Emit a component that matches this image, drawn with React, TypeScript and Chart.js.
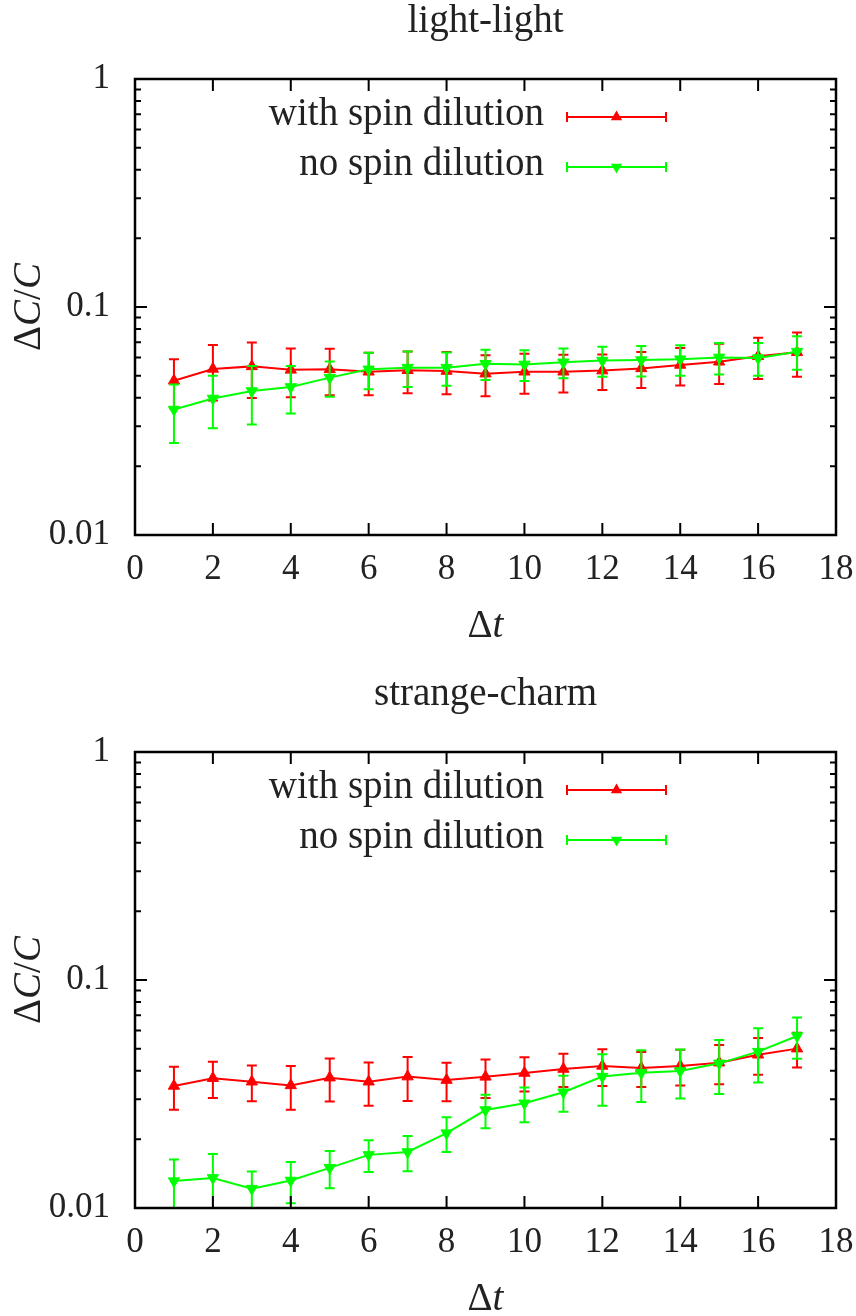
import React, { useEffect, useRef } from 'react';
import { Chart, registerables } from 'chart.js';

Chart.register(...registerables);

const SERIF = "'Liberation Serif', 'Times New Roman', serif";
const INK = '#222222';
const RED = '#ff0000';
const GREEN = '#00ff00';

// Time separations
const deltaT = [1, 2, 3, 4, 5, 6, 7, 8, 9, 10, 11, 12, 13, 14, 15, 16, 17];

// Axis ticks
const xTickValues = [0, 2, 4, 6, 8, 10, 12, 14, 16, 18];
const yTickValues = [0.01, 0.1, 1];

const seriesLabels = ['with spin dilution', 'no spin dilution'];

// light-light: relative error ΔC/C
const llWithSpin = [0.0475, 0.0535, 0.0549, 0.053, 0.0533, 0.052, 0.0528, 0.0524, 0.051, 0.052, 0.052, 0.0526, 0.0538, 0.0557, 0.0575, 0.0608, 0.0633];
const llWithSpinErr = [0.0115, 0.0146, 0.015, 0.0128, 0.0123, 0.011, 0.011, 0.011, 0.0104, 0.0104, 0.0098, 0.0093, 0.0097, 0.0104, 0.0115, 0.0125, 0.0139];
const llNoSpin = [0.0355, 0.0397, 0.0428, 0.0446, 0.049, 0.0533, 0.0542, 0.0542, 0.0564, 0.056, 0.0572, 0.0582, 0.0585, 0.059, 0.0601, 0.0597, 0.0637];
const llNoSpinErr = [0.0102, 0.0103, 0.0123, 0.0105, 0.0086, 0.0097, 0.0096, 0.009, 0.0086, 0.0086, 0.0085, 0.0087, 0.0089, 0.009, 0.0095, 0.0098, 0.0107];

// strange-charm: relative error ΔC/C
const scWithSpin = [0.0343, 0.0371, 0.0358, 0.0345, 0.0373, 0.0358, 0.0377, 0.0364, 0.0376, 0.0391, 0.0407, 0.042, 0.0411, 0.042, 0.0434, 0.047, 0.05];
const scWithSpinErr = [0.0073, 0.0067, 0.0064, 0.0075, 0.008, 0.0077, 0.0082, 0.007, 0.0072, 0.0067, 0.0068, 0.0077, 0.0072, 0.0075, 0.0085, 0.0086, 0.0087];
const scNoSpin = [0.01312, 0.01355, 0.01216, 0.0132, 0.015, 0.0171, 0.0176, 0.0213, 0.0269, 0.0288, 0.0322, 0.0377, 0.0392, 0.0399, 0.0431, 0.0485, 0.0568];
const scNoSpinErr = [0.0032, 0.0037, 0.0023, 0.0027, 0.0028, 0.0027, 0.0031, 0.0037, 0.0045, 0.005, 0.0058, 0.0096, 0.01, 0.0097, 0.0115, 0.013, 0.0116];

const TEXT_SIZE = 39;
const TICK_SIZE = 35;
const MARKER_R = 6.5;

type Part = [string, boolean];

// Draws a run of upright / italic pieces centred on the current origin.
function drawRich(ctx: CanvasRenderingContext2D, parts: Part[], size: number) {
  const fonts = parts.map(([, it]) => `${it ? 'italic ' : ''}${size}px ${SERIF}`);
  const widths = parts.map(([s], i) => {
    ctx.font = fonts[i];
    return ctx.measureText(s).width;
  });
  const total = widths.reduce((a, b) => a + b, 0);
  let x = -total / 2;
  parts.forEach(([s], i) => {
    ctx.font = fonts[i];
    ctx.fillText(s, x, 0);
    x += widths[i];
  });
}

function drawTriangle(ctx: CanvasRenderingContext2D, x: number, y: number, r: number, rotationDeg: number) {
  let rad = (rotationDeg * Math.PI) / 180;
  ctx.beginPath();
  for (let i = 0; i < 3; i++) {
    const px = x + Math.sin(rad) * r;
    const py = y - Math.cos(rad) * r;
    if (i === 0) ctx.moveTo(px, py);
    else ctx.lineTo(px, py);
    rad += (2 * Math.PI) / 3;
  }
  ctx.closePath();
  ctx.fill();
}

const errorBarsPlugin = {
  id: 'errorBars',
  beforeDatasetDraw(chart: any, args: any, opts: any) {
    const errs: number[] | undefined = opts.errors?.[args.index];
    if (!errs) return;
    const ds = chart.data.datasets[args.index];
    const { ctx, chartArea: a } = chart;
    const xs = chart.scales.x;
    const ys = chart.scales.y;
    ctx.save();
    ctx.beginPath();
    ctx.rect(a.left, a.top, a.right - a.left, a.bottom - a.top);
    ctx.clip();
    ctx.strokeStyle = ds.borderColor;
    ctx.lineWidth = 2;
    ds.data.forEach((p: { x: number; y: number }, i: number) => {
      const px = xs.getPixelForValue(p.x);
      const top = ys.getPixelForValue(p.y + errs[i]);
      const lowVal = p.y - errs[i];
      const bot = lowVal > 0 ? ys.getPixelForValue(lowVal) : a.bottom + 20;
      ctx.beginPath();
      ctx.moveTo(px, top);
      ctx.lineTo(px, bot);
      ctx.moveTo(px - 5, top);
      ctx.lineTo(px + 5, top);
      ctx.moveTo(px - 5, bot);
      ctx.lineTo(px + 5, bot);
      ctx.stroke();
    });
    ctx.restore();
  },
};

const framePlugin = {
  id: 'frameTicks',
  afterDatasetsDraw(chart: any) {
    const { ctx, chartArea: a } = chart;
    const xs = chart.scales.x;
    const ys = chart.scales.y;
    ctx.save();
    ctx.strokeStyle = '#000';
    ctx.lineWidth = 2;
    ctx.beginPath();
    xTickValues.forEach((v) => {
      const px = xs.getPixelForValue(v);
      ctx.moveTo(px, a.bottom);
      ctx.lineTo(px, a.bottom - 12);
      ctx.moveTo(px, a.top);
      ctx.lineTo(px, a.top + 12);
    });
    for (let d = -2; d < 0; d++) {
      for (let k = 1; k <= 9; k++) {
        const v = k * Math.pow(10, d);
        const len = k === 1 ? 12 : 6;
        const py = ys.getPixelForValue(v);
        ctx.moveTo(a.left, py);
        ctx.lineTo(a.left + len, py);
        ctx.moveTo(a.right, py);
        ctx.lineTo(a.right - len, py);
      }
    }
    ctx.stroke();
    ctx.lineWidth = 2.5;
    ctx.strokeRect(a.left, a.top, a.right - a.left, a.bottom - a.top);
    ctx.restore();
  },
};

const keyPlugin = {
  id: 'keyBox',
  afterDatasetsDraw(chart: any) {
    const { ctx, chartArea: a } = chart;
    const rotations = [0, 180];
    ctx.save();
    chart.data.datasets.forEach((ds: any, i: number) => {
      const row = a.top + 38 + i * 50;
      ctx.fillStyle = INK;
      ctx.font = `${TEXT_SIZE}px ${SERIF}`;
      ctx.textAlign = 'right';
      ctx.textBaseline = 'alphabetic';
      ctx.fillText(ds.label, a.left + 409, row + 8);
      const x0 = a.left + 432;
      const x1 = a.left + 531;
      ctx.strokeStyle = ds.borderColor;
      ctx.lineWidth = 2;
      ctx.beginPath();
      ctx.moveTo(x0, row);
      ctx.lineTo(x1, row);
      ctx.moveTo(x0, row - 5);
      ctx.lineTo(x0, row + 5);
      ctx.moveTo(x1, row - 5);
      ctx.lineTo(x1, row + 5);
      ctx.stroke();
      ctx.fillStyle = ds.borderColor;
      drawTriangle(ctx, (x0 + x1) / 2, row, MARKER_R, rotations[i]);
    });
    ctx.restore();
  },
};

const axisTitlesPlugin = {
  id: 'axisTitles',
  afterDraw(chart: any) {
    const { ctx, chartArea: a } = chart;
    ctx.save();
    ctx.fillStyle = INK;
    ctx.textAlign = 'left';
    ctx.textBaseline = 'alphabetic';
    ctx.save();
    ctx.translate((a.left + a.right) / 2, a.bottom + 102);
    drawRich(ctx, [['Δ', false], ['t', true]], TEXT_SIZE);
    ctx.restore();
    ctx.save();
    ctx.translate(40, (a.top + a.bottom) / 2);
    ctx.rotate(-Math.PI / 2);
    drawRich(ctx, [['Δ', false], ['C', true], ['/', false], ['C', true]], TEXT_SIZE);
    ctx.restore();
    ctx.restore();
  },
};

type PanelProps = {
  title: string;
  withSpin: number[];
  withSpinErr: number[];
  noSpin: number[];
  noSpinErr: number[];
  offset: number;
};

function Panel({ title, withSpin, withSpinErr, noSpin, noSpinErr, offset }: PanelProps) {
  const ref = useRef<HTMLCanvasElement | null>(null);

  useEffect(() => {
    if (!ref.current) return;
    const chart = new Chart(ref.current, {
      type: 'scatter',
      data: {
        datasets: [
          {
            label: seriesLabels[0],
            data: deltaT.map((t, i) => ({ x: t, y: withSpin[i] })),
            showLine: true,
            borderColor: RED,
            backgroundColor: RED,
            borderWidth: 2,
            pointStyle: 'triangle',
            pointRadius: MARKER_R,
            pointBorderWidth: 1,
            pointBackgroundColor: RED,
            order: 1,
          },
          {
            label: seriesLabels[1],
            data: deltaT.map((t, i) => ({ x: t, y: noSpin[i] })),
            showLine: true,
            borderColor: GREEN,
            backgroundColor: GREEN,
            borderWidth: 2,
            pointStyle: 'triangle',
            pointRotation: 180,
            pointRadius: MARKER_R,
            pointBorderWidth: 1,
            pointBackgroundColor: GREEN,
            order: 0,
          },
        ],
      },
      options: {
        responsive: false,
        animation: false,
        devicePixelRatio: 1,
        events: [],
        layout: { padding: { left: 0, right: 20, top: 0, bottom: 0 } },
        plugins: {
          legend: { display: false },
          tooltip: { enabled: false },
          title: {
            display: true,
            fullSize: false,
            text: title,
            color: INK,
            font: { family: SERIF, size: TEXT_SIZE, weight: 'normal', lineHeight: 1 },
            padding: { top: 2 + offset, bottom: 38 },
          },
          errorBars: { errors: [withSpinErr, noSpinErr] },
        } as any,
        scales: {
          x: {
            type: 'linear',
            min: 0,
            max: 18,
            grid: { display: false, drawTicks: false },
            border: { display: false },
            ticks: {
              stepSize: 2,
              color: INK,
              padding: 14,
              maxRotation: 0,
              font: { family: SERIF, size: TICK_SIZE },
            },
            afterFit(scale: any) {
              scale.height = 123 - offset;
              scale.paddingLeft = 0;
              scale.paddingRight = 0;
            },
          },
          y: {
            type: 'logarithmic',
            min: 0.01,
            max: 1,
            grid: { display: false, drawTicks: false },
            border: { display: false },
            afterBuildTicks(scale: any) {
              scale.ticks = yTickValues.map((v) => ({ value: v }));
            },
            ticks: {
              color: INK,
              padding: 25,
              font: { family: SERIF, size: TICK_SIZE },
              callback: (v: any) => String(v),
            },
            afterFit(scale: any) {
              scale.width = 135;
              scale.paddingTop = 0;
              scale.paddingBottom = 0;
            },
          },
        },
      },
      plugins: [errorBarsPlugin, framePlugin, keyPlugin, axisTitlesPlugin],
    } as any);
    return () => chart.destroy();
  }, [title, withSpin, withSpinErr, noSpin, noSpinErr, offset]);

  return <canvas ref={ref} width={856} height={658} style={{ display: 'block', width: 856, height: 658 }} />;
}

export default function App() {
  return (
    <div
      style={{
        position: 'absolute',
        left: 0,
        top: 0,
        width: 856,
        height: 1316,
        overflow: 'hidden',
        background: '#ffffff',
      }}
    >
      <Panel
        title="light-light"
        withSpin={llWithSpin}
        withSpinErr={llWithSpinErr}
        noSpin={llNoSpin}
        noSpinErr={llNoSpinErr}
        offset={0}
      />
      <Panel
        title="strange-charm"
        withSpin={scWithSpin}
        withSpinErr={scWithSpinErr}
        noSpin={scNoSpin}
        noSpinErr={scNoSpinErr}
        offset={15}
      />
    </div>
  );
}
